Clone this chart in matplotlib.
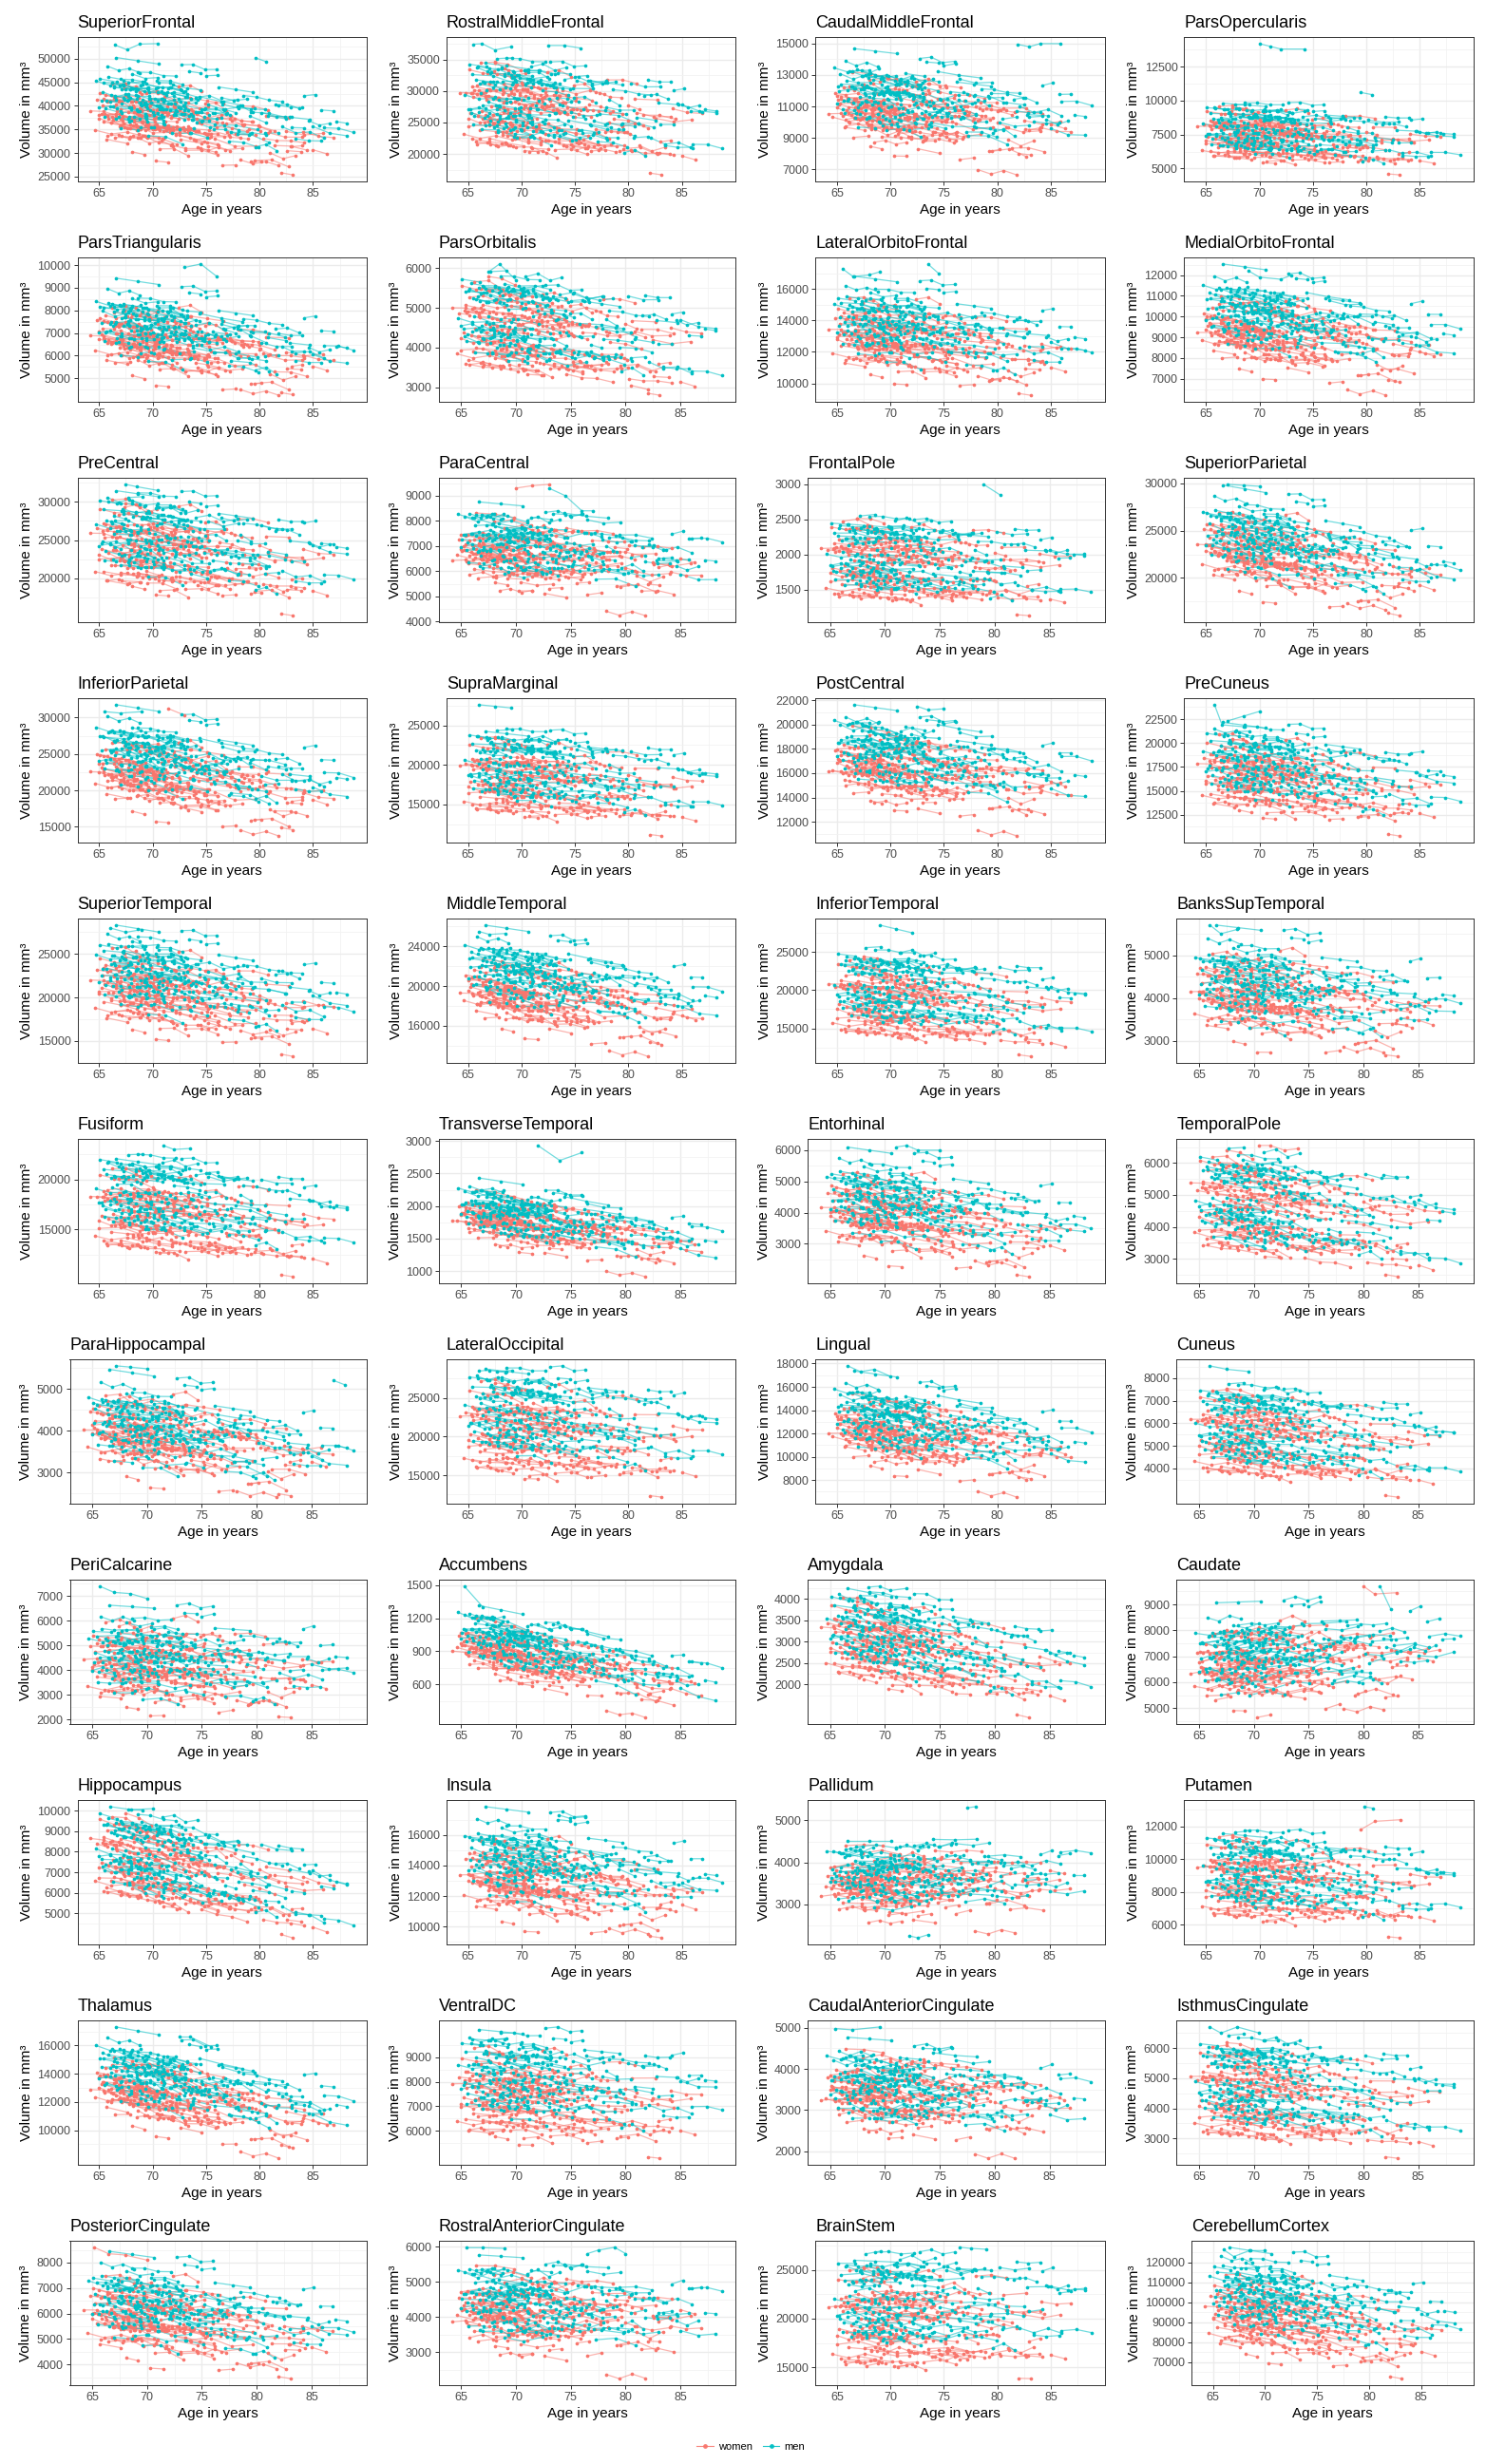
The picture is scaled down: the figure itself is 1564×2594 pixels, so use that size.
import numpy as np
import matplotlib
matplotlib.use("Agg")
import matplotlib.pyplot as plt
from matplotlib.collections import LineCollection
from matplotlib.lines import Line2D
from matplotlib.ticker import FixedLocator

plt.rcParams['font.family'] = ['Liberation Sans', 'DejaVu Sans']

# ---- regions: level at age 70 (women / men), spread, yearly change, ticks
regions = ['SuperiorFrontal', 'RostralMiddleFrontal', 'CaudalMiddleFrontal', 'ParsOpercularis',
           'ParsTriangularis', 'ParsOrbitalis', 'LateralOrbitoFrontal', 'MedialOrbitoFrontal',
           'PreCentral', 'ParaCentral', 'FrontalPole', 'SuperiorParietal',
           'InferiorParietal', 'SupraMarginal', 'PostCentral', 'PreCuneus',
           'SuperiorTemporal', 'MiddleTemporal', 'InferiorTemporal', 'BanksSupTemporal',
           'Fusiform', 'TransverseTemporal', 'Entorhinal', 'TemporalPole',
           'ParaHippocampal', 'LateralOccipital', 'Lingual', 'Cuneus',
           'PeriCalcarine', 'Accumbens', 'Amygdala', 'Caudate',
           'Hippocampus', 'Insula', 'Pallidum', 'Putamen',
           'Thalamus', 'VentralDC', 'CaudalAnteriorCingulate', 'IsthmusCingulate',
           'PosteriorCingulate', 'RostralAnteriorCingulate', 'BrainStem', 'CerebellumCortex']

mean_women = [36500, 26500, 10400, 7300, 6500, 4400, 12700, 9000,
              23500, 6500, 1850, 22300, 21500, 17800, 16000, 16200,
              20300, 18700, 18300, 3950, 16300, 1700, 3800, 4550,
              3800, 20300, 11700, 5300, 4100, 840, 2850, 6500,
              7300, 12800, 3400, 8500, 12300, 7300, 3300, 4350,
              5700, 4000, 19500, 91000]
mean_men = [40500, 28500, 11400, 7900, 7200, 4750, 13700, 10000,
            25500, 7000, 2000, 24000, 24500, 19800, 17500, 17800,
            22500, 21000, 20500, 4300, 18500, 1850, 4350, 4900,
            4050, 23000, 13000, 5900, 4500, 960, 3200, 7000,
            7900, 14200, 3650, 9300, 13700, 8200, 3500, 4900,
            6300, 4350, 22000, 103000]
spread = [3800, 3100, 1500, 900, 900, 520, 1250, 1100,
          2650, 900, 260, 2300, 3000, 2200, 1950, 1850,
          2300, 2200, 2300, 580, 1850, 260, 700, 700,
          580, 2750, 1950, 860, 900, 160, 440, 980,
          920, 1500, 520, 1150, 1500, 860, 630, 700,
          860, 750, 2300, 9800]
yearly = [-350, -230, -80, -60, -70, -40, -90, -70,
          -200, -40, -12, -200, -230, -150, -120, -150,
          -200, -160, -160, -30, -150, -25, -50, -55,
          -40, -160, -130, -55, -30, -20, -50, 15,
          -120, -90, 0, -60, -140, -45, -20, -40,
          -60, -20, -50, -800]
mix_deg = [15, -30, 40, -20, 25, -45, 10, 35, -15, 50,
           -35, 20, 30, -25, 45, -10, 5, 35, -40, 20,
           -30, 45, 15, -50, 25, -20, 40, -35, 10, 50,
           -15, 30, -45, 20, 55, -25, 35, -10, 45, -40,
           15, 50, -30, 5]
yticks = [[25000, 30000, 35000, 40000, 45000, 50000], [20000, 25000, 30000, 35000],
          [7000, 9000, 11000, 13000, 15000], [5000, 7500, 10000, 12500],
          [5000, 6000, 7000, 8000, 9000, 10000], [3000, 4000, 5000, 6000],
          [10000, 12000, 14000, 16000], [7000, 8000, 9000, 10000, 11000, 12000],
          [20000, 25000, 30000], [4000, 5000, 6000, 7000, 8000, 9000],
          [1500, 2000, 2500, 3000], [20000, 25000, 30000],
          [15000, 20000, 25000, 30000], [15000, 20000, 25000],
          [12000, 14000, 16000, 18000, 20000, 22000], [12500, 15000, 17500, 20000, 22500],
          [15000, 20000, 25000], [16000, 20000, 24000],
          [15000, 20000, 25000], [3000, 4000, 5000],
          [15000, 20000], [1000, 1500, 2000, 2500, 3000],
          [3000, 4000, 5000, 6000], [3000, 4000, 5000, 6000],
          [3000, 4000, 5000], [15000, 20000, 25000],
          [8000, 10000, 12000, 14000, 16000, 18000], [4000, 5000, 6000, 7000, 8000],
          [2000, 3000, 4000, 5000, 6000, 7000], [600, 900, 1200, 1500],
          [2000, 2500, 3000, 3500, 4000], [5000, 6000, 7000, 8000, 9000],
          [5000, 6000, 7000, 8000, 9000, 10000], [10000, 12000, 14000, 16000],
          [3000, 4000, 5000], [6000, 8000, 10000, 12000],
          [10000, 12000, 14000, 16000], [6000, 7000, 8000, 9000],
          [2000, 3000, 4000, 5000], [3000, 4000, 5000, 6000],
          [4000, 5000, 6000, 7000, 8000], [3000, 4000, 5000, 6000],
          [15000, 20000, 25000], [70000, 80000, 90000, 100000, 110000, 120000]]
xticks = [65, 70, 75, 80, 85]

# ---- cohort: baseline age, years between scans, number of scans, standing (two parts),
#      own rate of change, zig-zag between scans
women_age0 = [64.2, 64.6, 64.8, 65.0, 65.1, 65.2, 65.3, 65.4, 65.5, 65.6,
              65.7, 65.8, 65.9, 66.0, 66.1, 66.2, 66.3, 66.4, 66.5, 66.6,
              66.8, 66.9, 67.0, 67.1, 67.2, 67.3, 67.5, 67.6, 67.7, 67.9,
              68.0, 68.1, 68.3, 68.4, 68.5, 68.7, 68.8, 69.0, 69.1, 69.2,
              69.4, 69.5, 69.7, 69.8, 70.0, 70.1, 70.3, 70.5, 70.6, 70.8,
              71.0, 71.1, 71.3, 71.5, 71.7, 71.9, 72.0, 72.2, 72.4, 72.6,
              72.9, 73.1, 73.3, 73.5, 73.8, 74.0, 74.3, 74.6, 74.9, 75.2,
              75.5, 75.8, 76.1, 76.5, 76.9, 77.3, 77.8, 78.2, 78.6, 79.0,
              79.5, 80.0, 80.3, 80.6, 81.0, 81.4, 82.0, 82.5, 83.0, 84.1,
              85.0, 66.7, 68.2, 70.4, 72.8,
              65.0, 65.4, 65.8, 66.2, 66.6, 67.0, 67.4, 67.8, 68.2, 68.6,
              69.0, 69.4, 69.8, 70.2, 70.7, 71.2, 71.6, 72.1, 72.5, 73.0,
              73.6, 74.2, 74.8, 75.5, 76.3, 77.0, 78.0, 79.2, 80.8, 82.6]
women_gap = [1.2, 1.5, 1.0, 2.0, 1.3, 1.8, 1.1, 1.6, 1.4, 1.0,
             1.9, 1.2, 1.5, 1.1, 2.1, 1.3, 1.0, 1.7, 1.4, 1.2,
             1.6, 1.0, 1.3, 1.8, 1.1, 1.5, 1.2, 2.0, 1.0, 1.4,
             1.7, 1.1, 1.3, 1.6, 1.0, 1.9, 1.2, 1.5, 1.1, 1.8,
             1.0, 1.4, 1.3, 2.2, 1.1, 1.6, 1.2, 1.0, 1.7, 1.3,
             1.5, 1.1, 1.9, 1.2, 1.4, 1.0, 1.6, 1.3, 1.1, 2.0,
             1.2, 1.5, 1.0, 1.8, 1.3, 1.1, 1.7, 1.4, 1.0, 1.6,
             1.2, 1.9, 1.1, 1.3, 1.5, 1.0, 1.8, 1.2, 1.4, 1.1,
             1.6, 1.0, 1.3, 2.1, 1.2, 1.5, 1.1, 1.7, 1.0, 1.4,
             1.3, 1.8, 1.2, 1.5, 1.0,
             1.1, 1.4, 1.0, 1.7, 1.2, 1.5, 1.0, 1.3, 1.9, 1.1,
             1.4, 1.2, 1.0, 1.6, 1.3, 1.1, 1.8, 1.0, 1.4, 1.2,
             1.5, 1.0, 1.3, 1.7, 1.1, 1.2, 1.4, 1.0, 1.6, 1.3]
women_nvis = [3, 4, 2, 3, 4, 3, 2, 4, 3, 3,
              2, 4, 3, 4, 2, 3, 4, 3, 2, 4,
              3, 3, 4, 2, 3, 4, 3, 2, 4, 3,
              3, 2, 4, 3, 4, 2, 3, 4, 3, 2,
              4, 3, 3, 2, 4, 3, 2, 4, 3, 3,
              2, 4, 3, 3, 4, 2, 3, 4, 3, 2,
              4, 3, 2, 3, 4, 3, 2, 4, 3, 3,
              2, 3, 4, 2, 3, 3, 2, 4, 3, 2,
              3, 2, 4, 2, 3, 3, 2, 3, 2, 3,
              2, 3, 4, 3, 3,
              3, 2, 4, 3, 3, 2, 4, 3, 2, 4,
              3, 3, 2, 4, 3, 2, 3, 4, 3, 2,
              3, 4, 2, 3, 3, 2, 3, 2, 3, 2]
women_z1 = [0.3, -1.2, 0.8, -0.4, 1.5, -0.1, 0.6, -0.9, 0.2, 1.1,
            -1.6, 0.4, -0.3, 0.9, -0.7, 2.1, -0.2, 0.5, -1.1, 0.0,
            1.3, -0.6, 0.7, -1.4, 0.1, -0.5, 1.8, -0.8, 0.3, -0.2,
            0.6, -1.9, 1.0, -0.4, 0.2, -1.0, 0.8, 1.4, -0.3, -0.7,
            0.5, -1.3, 0.0, 1.2, -0.6, 0.9, -2.2, 0.4, -0.1, 0.7,
            -0.9, 1.6, -0.5, 0.3, -1.2, 0.1, 1.0, -0.8, 2.4, -0.3,
            0.6, -1.5, 0.2, -0.4, 1.1, -0.7, 0.5, -0.2, 1.7, -1.0,
            0.0, -0.6, 0.8, -1.8, 0.3, 1.3, -0.1, -0.9, 0.6, 0.2,
            -1.3, 0.9, -0.4, 1.5, -0.8, 0.1, -2.0, 0.7, -0.3, 1.0,
            -0.5, 0.4, -1.1, 0.2, 0.8,
            -0.4, 1.0, -1.5, 0.2, 0.7, -0.9, 1.9, -0.2, 0.4, -1.1,
            0.8, -0.6, 1.3, 0.0, -1.7, 0.5, -0.3, 1.1, -0.8, 0.3,
            1.6, -1.2, 0.1, -0.5, 0.9, -0.1, 2.0, -1.4, 0.6, -0.7]
women_z2 = [-0.7, 0.9, 0.1, 1.4, -1.1, 0.5, -0.3, 1.8, -0.6, 0.2,
            0.8, -1.5, 0.4, -0.2, 1.1, -0.9, 0.0, 2.0, -0.4, 0.7,
            -1.3, 0.3, -0.8, 1.2, -0.1, 0.6, -1.7, 0.9, 0.2, -0.5,
            1.5, 0.1, -1.0, 0.4, -2.1, 0.8, -0.3, 0.5, 1.0, -0.6,
            -0.2, 1.3, -0.9, 0.3, 0.7, -1.4, 0.0, 1.6, -0.7, 0.4,
            1.9, -0.1, 0.6, -1.2, 0.2, -0.8, 0.9, 1.1, -0.4, -1.6,
            0.3, 0.7, -0.5, 1.4, -1.0, 0.1, -0.3, 2.2, -0.6, 0.5,
            -1.1, 0.8, 0.2, -0.2, 1.2, -0.9, 0.6, -1.8, 0.4, 1.0,
            0.0, -0.7, 1.7, -0.4, 0.3, -1.3, 0.9, -0.1, 0.5, -0.8,
            1.3, -0.2, 0.6, -1.5, 0.1,
            0.6, -0.3, 1.2, -1.0, 0.0, 1.5, -0.6, 0.8, -1.4, 0.3,
            -0.8, 1.7, 0.2, -0.5, 0.9, -1.2, 0.4, -0.1, 1.1, -1.8,
            0.5, 0.7, -0.9, 1.3, -0.2, 0.8, -1.1, 0.1, -0.6, 1.0]
women_rate = [1.0, 0.6, 1.4, 0.8, 1.2, 0.4, 1.7, 0.9, 1.1, 0.5,
              1.3, 0.7, 1.9, 1.0, 0.3, 1.5, 0.8, 1.2, 0.6, 1.0,
              1.6, 0.9, 0.5, 1.3, 1.1, 0.7, 2.0, 0.8, 1.0, 1.4,
              0.6, 1.2, 0.9, 1.7, 0.4, 1.1, 1.3, 0.8, 1.5, 1.0,
              0.7, 1.2, 0.5, 1.6, 0.9, 1.1, 1.4, 0.8, 0.3, 1.2,
              1.0, 1.8, 0.6, 1.3, 0.9, 1.1, 0.7, 1.5, 1.0, 0.5,
              1.2, 0.8, 1.6, 1.0, 0.4, 1.3, 0.9, 1.1, 1.7, 0.6,
              1.0, 1.4, 0.8, 1.2, 0.5, 1.9, 1.0, 0.7, 1.3, 1.1,
              0.9, 1.5, 0.6, 1.2, 1.0, 0.8, 1.4, 0.5, 1.1, 1.3,
              0.7, 1.0, 1.6, 0.9, 1.2,
              0.9, 1.3, 0.6, 1.1, 1.6, 0.8, 1.0, 1.4, 0.5, 1.2,
              0.9, 1.7, 0.7, 1.0, 1.3, 0.6, 1.1, 1.5, 0.8, 1.2,
              1.0, 0.4, 1.4, 0.9, 1.8, 1.1, 0.7, 1.3, 1.0, 0.8]
women_bend = [0.4, -0.7, 0.1, 0.9, -0.3, -1.0, 0.6, -0.2, 0.8, -0.5,
              0.0, 0.7, -0.9, 0.3, -0.4, 1.0, -0.6, 0.2, 0.5, -0.8,
              0.9, -0.1, -0.5, 0.6, 0.1, -0.9, 0.4, 0.8, -0.3, -0.6,
              0.7, -0.2, 0.3, -1.0, 0.5, 0.0, -0.7, 0.9, -0.4, 0.2,
              -0.8, 0.6, 0.1, -0.3, 1.0, -0.5, 0.4, -0.9, 0.7, -0.1,
              0.3, -0.6, 0.8, 0.0, -0.4, 0.5, -1.0, 0.2, 0.9, -0.7,
              -0.2, 0.6, -0.5, 0.4, -0.8, 0.1, 0.7, -0.3, 1.0, -0.6,
              0.5, -0.9, 0.2, 0.8, -0.1, -0.4, 0.6, -0.7, 0.3, 0.0,
              0.9, -0.5, -0.2, 0.7, -1.0, 0.4, 0.1, -0.6, 0.8, -0.3,
              -0.7, 0.2, 0.5, -0.4, 0.9, -0.8, 0.0, 0.6, -0.1, 0.3,
              -0.5, 1.0, -0.3, 0.4, -0.9, 0.7, -0.2, 0.1, -0.6, 0.8,
              0.2, -0.4, 0.9, -0.7, 0.5, 0.0, -0.8, 0.6, -0.1, 0.3,
              -1.0, 0.4, 0.7, -0.5, 0.2]

men_age0 = [64.7, 65.0, 65.1, 65.3, 65.4, 65.5, 65.7, 65.8, 66.0, 66.1,
            66.3, 66.4, 66.6, 66.7, 66.9, 67.0, 67.2, 67.4, 67.5, 67.7,
            67.9, 68.0, 68.2, 68.4, 68.6, 68.8, 69.0, 69.2, 69.4, 69.6,
            69.8, 70.0, 70.2, 70.4, 70.7, 70.9, 71.1, 71.4, 71.6, 71.9,
            72.1, 72.4, 72.7, 73.0, 73.3, 73.6, 74.0, 74.4, 74.8, 75.2,
            75.7, 76.2, 76.8, 77.3, 77.9, 78.5, 79.1, 79.6, 80.2, 80.8,
            81.5, 82.1, 82.8, 83.4, 84.2, 85.0, 86.0, 87.2, 65.6, 66.5,
            67.3, 68.3, 69.1, 69.9, 70.6, 71.3, 72.0, 73.8, 75.0, 76.5,
            78.0, 66.2, 68.9, 70.3, 74.6,
            65.2, 65.9, 66.4, 66.8, 67.1, 67.6, 68.1, 68.5, 69.3, 69.7,
            70.1, 70.5, 71.0, 71.5, 72.2, 72.9, 73.4, 74.1, 74.9, 75.6,
            76.4, 77.1, 78.2, 79.4, 80.5, 81.8, 83.0, 84.6, 85.8, 67.8]
men_gap = [1.3, 1.0, 1.6, 1.2, 1.9, 1.1, 1.4, 1.0, 1.7, 1.2,
           1.5, 1.1, 2.0, 1.3, 1.0, 1.6, 1.2, 1.8, 1.1, 1.4,
           1.0, 1.5, 1.3, 2.1, 1.2, 1.0, 1.7, 1.4, 1.1, 1.6,
           1.3, 1.0, 1.9, 1.2, 1.5, 1.1, 1.4, 1.8, 1.0, 1.3,
           1.6, 1.2, 1.1, 1.7, 1.0, 1.5, 1.3, 2.0, 1.2, 1.4,
           1.1, 1.6, 1.0, 1.8, 1.3, 1.2, 1.5, 1.0, 1.4, 1.7,
           1.1, 1.3, 1.9, 1.2, 1.0, 1.6, 1.4, 1.0, 1.5, 1.2,
           1.8, 1.1, 1.3, 1.6, 1.0, 1.4, 1.2, 2.0, 1.1, 1.5,
           1.3, 1.7, 1.0, 1.4, 1.2,
           1.4, 1.1, 1.6, 1.0, 1.3, 1.8, 1.2, 1.0, 1.5, 1.1,
           1.7, 1.3, 1.0, 1.4, 1.2, 1.9, 1.1, 1.3, 1.0, 1.6,
           1.2, 1.4, 1.0, 1.5, 1.3, 1.1, 1.2, 1.0, 1.1, 1.6]
men_nvis = [4, 3, 2, 3, 4, 3, 2, 4, 3, 3,
            4, 2, 3, 4, 3, 2, 4, 3, 3, 2,
            4, 3, 2, 3, 4, 3, 3, 2, 4, 3,
            2, 4, 3, 3, 2, 4, 3, 2, 4, 3,
            3, 2, 4, 3, 3, 2, 4, 3, 2, 3,
            4, 3, 2, 3, 3, 4, 2, 3, 3, 2,
            3, 4, 2, 3, 2, 3, 3, 2, 4, 3,
            3, 2, 4, 3, 3, 2, 3, 4, 2, 3,
            3, 4, 2, 3, 3,
            3, 4, 2, 3, 4, 2, 3, 3, 4, 2,
            3, 3, 4, 2, 3, 3, 2, 4, 3, 2,
            3, 3, 2, 3, 2, 3, 2, 3, 2, 3]
men_z1 = [0.5, -0.8, 1.2, -0.2, 0.9, -1.4, 0.1, 1.7, -0.5, 0.3,
          -1.0, 0.7, 2.2, -0.3, 0.4, -1.7, 1.0, -0.6, 0.2, 1.4,
          -0.1, -1.2, 0.8, 0.0, 1.9, -0.7, 0.3, -0.4, 1.1, -2.0,
          0.6, -0.9, 0.2, 1.5, -0.3, 0.9, -1.3, 0.4, -0.1, 1.2,
          -0.6, 0.7, 2.5, -0.8, 0.1, -1.5, 1.0, 0.3, -0.4, 0.8,
          -1.1, 1.6, 0.0, -0.7, 0.5, 1.3, -0.2, -1.8, 0.9, 0.2,
          1.1, -0.5, 0.6, -1.0, 1.8, 0.4, -0.3, 0.7, -0.9, 0.3,
          1.0, -1.2, 0.5, -0.1, 1.4, -0.6, 0.8, -0.4, 2.0, 0.1,
          -0.8, 0.6, -1.6, 1.2, 0.0,
          -0.5, 1.3, 0.2, -1.1, 0.8, -0.2, 1.6, -0.8, 0.4, 0.0,
          -1.4, 0.9, -0.3, 1.1, -0.6, 0.5, 2.1, -1.0, 0.3, -0.4,
          1.2, -1.6, 0.7, 0.1, -0.9, 1.4, -0.2, 0.6, 1.0, -1.3]
men_z2 = [1.1, 0.3, -0.9, 1.6, -0.4, 0.7, -1.3, 0.2, 0.9, -0.6,
          1.8, -0.2, 0.5, -1.1, 1.3, 0.0, -0.7, 2.1, 0.4, -1.5,
          0.8, 0.1, -0.3, 1.2, -0.8, 0.6, -1.9, 1.0, -0.1, 0.4,
          -1.2, 1.5, 0.3, -0.5, 0.9, -2.0, 0.7, 1.4, -0.4, 0.2,
          1.0, -0.8, 0.0, 1.7, -0.6, 0.5, -1.0, 1.9, 0.3, -1.4,
          0.6, -0.2, 1.1, -0.9, 0.4, -0.1, 1.3, 0.8, -1.7, 0.5,
          -0.3, 1.2, -0.6, 0.9, 0.0, -1.1, 1.6, -0.4, 0.7, -0.8,
          0.2, 1.0, -1.3, 0.6, -0.5, 1.4, 0.1, -0.7, 0.3, 1.8,
          -0.2, 0.9, 0.4, -1.0, 0.5,
          0.8, -0.6, 1.4, 0.2, -1.0, 0.5, -0.3, 1.2, -1.6, 0.9,
          0.1, -0.7, 1.8, -0.2, 0.6, -1.2, 0.3, 1.0, -0.5, 1.5,
          -0.9, 0.4, -0.1, 1.1, 0.7, -1.4, 0.2, -0.8, 0.5, 1.3]
men_rate = [1.1, 0.7, 1.5, 0.9, 1.3, 0.5, 1.8, 1.0, 0.6, 1.2,
            1.4, 0.8, 1.0, 1.7, 0.4, 1.2, 0.9, 1.5, 0.7, 1.1,
            1.9, 0.6, 1.3, 1.0, 0.8, 1.6, 0.5, 1.2, 1.0, 1.4,
            0.7, 1.1, 2.0, 0.9, 1.3, 0.6, 1.0, 1.5, 0.8, 1.2,
            1.7, 0.4, 1.1, 0.9, 1.4, 1.0, 0.6, 1.3, 1.8, 0.8,
            1.2, 1.0, 0.5, 1.6, 0.9, 1.1, 1.4, 0.7, 1.0, 1.3,
            0.8, 1.5, 1.1, 0.6, 1.2, 1.9, 0.9, 1.0, 0.7, 1.4,
            1.1, 0.5, 1.3, 1.0, 1.6, 0.8, 1.2, 0.9, 1.5, 1.0,
            0.7, 1.3, 1.1, 0.6, 1.2,
            1.2, 0.8, 1.4, 1.0, 0.6, 1.5, 1.1, 0.9, 1.7, 0.7,
            1.2, 1.0, 0.5, 1.3, 1.6, 0.9, 1.1, 0.8, 1.4, 1.0,
            0.6, 1.2, 1.8, 0.9, 1.1, 0.7, 1.3, 1.0, 1.5, 0.8]
men_bend = [-0.5, 0.8, 0.2, -0.9, 0.6, -0.1, 0.4, -0.7, 1.0, -0.3,
            0.7, -0.4, 0.0, 0.9, -0.8, 0.3, -0.6, 0.5, -0.2, 0.8,
            -1.0, 0.1, 0.6, -0.5, 0.3, 0.9, -0.7, 0.2, -0.4, 0.7,
            0.0, -0.9, 0.5, 0.4, -0.3, 1.0, -0.6, 0.1, 0.8, -0.2,
            -0.7, 0.3, 0.6, -1.0, 0.2, -0.5, 0.9, -0.1, 0.4, -0.8,
            0.5, 0.0, -0.6, 0.7, -0.3, 0.2, -0.9, 1.0, -0.4, 0.1,
            0.6, -0.8, 0.3, -0.2, 0.9, -0.5, 0.4, 0.0, -0.7, 0.8,
            -0.1, 0.5, -1.0, 0.3, 0.7, -0.6, 0.2, -0.3, 0.9, -0.4,
            0.1, -0.8, 0.6, 0.4, -0.5, 1.0, -0.2, 0.7, -0.9, 0.0,
            0.3, -0.6, 0.8, -0.1, 0.5, -0.7, 0.2, 0.9, -0.3, 0.6,
            -0.4, 0.1, -0.8, 0.7, 0.0, -0.5, 0.4, -0.9, 0.3, 0.8,
            -0.2, 0.6, -0.7, 0.5, -0.1]

# zig-zag shape over the scans of one person (share of the bend)
bend_shape = [0.0, 1.0, -0.4, 0.6]

# ---- stand-out trajectories
extra_region = ['SuperiorFrontal', 'SuperiorFrontal', 'RostralMiddleFrontal', 'RostralMiddleFrontal',
                'CaudalMiddleFrontal', 'ParsOpercularis', 'ParsOpercularis', 'ParsTriangularis',
                'ParsOrbitalis', 'ParsOrbitalis', 'LateralOrbitoFrontal', 'LateralOrbitoFrontal',
                'MedialOrbitoFrontal', 'PreCentral', 'ParaCentral', 'ParaCentral',
                'FrontalPole', 'SuperiorParietal', 'InferiorParietal', 'InferiorParietal',
                'SupraMarginal', 'PostCentral', 'PreCuneus', 'PreCuneus',
                'SuperiorTemporal', 'MiddleTemporal', 'InferiorTemporal', 'BanksSupTemporal',
                'Fusiform', 'TransverseTemporal', 'Entorhinal', 'TemporalPole',
                'ParaHippocampal', 'ParaHippocampal', 'LateralOccipital', 'Lingual',
                'Cuneus', 'PeriCalcarine', 'Accumbens', 'Amygdala',
                'Caudate', 'Caudate', 'Hippocampus', 'Insula',
                'Pallidum', 'Pallidum', 'Putamen', 'Putamen',
                'Thalamus', 'VentralDC', 'CaudalAnteriorCingulate', 'IsthmusCingulate',
                'PosteriorCingulate', 'RostralAnteriorCingulate', 'RostralAnteriorCingulate', 'BrainStem',
                'CerebellumCortex']
extra_sex = ['men', 'men', 'men', 'men',
             'men', 'men', 'men', 'men',
             'men', 'women', 'men', 'men',
             'men', 'men', 'women', 'men',
             'men', 'men', 'women', 'men',
             'men', 'men', 'men', 'men',
             'men', 'men', 'men', 'men',
             'men', 'men', 'men', 'women',
             'men', 'men', 'men', 'men',
             'men', 'men', 'men', 'men',
             'women', 'men', 'men', 'men',
             'men', 'men', 'men', 'women',
             'men', 'men', 'men', 'men',
             'women', 'men', 'men', 'men',
             'men']
extra_ages = [[66.5, 67.6, 68.8, 70.5], [79.6, 80.6], [65.5, 66.3, 67.5, 69.0], [72.5, 74.0, 75.5],
              [81.9, 83.0, 84.0, 85.9], [70.0, 71.0, 72.0, 74.2], [79.5, 80.5], [73.0, 74.5, 76.0],
              [67.5, 68.5, 70.0], [80.5, 82.0], [65.5, 66.5, 68.0, 69.0], [73.5, 74.5],
              [69.0, 70.0, 72.0, 73.0], [67.5, 68.5, 70.5], [70.0, 71.5, 73.0], [73.0, 74.5, 76.0, 77.0],
              [79.0, 80.5], [67.0, 68.5, 70.0], [71.5, 73.0], [65.5, 67.0, 69.0],
              [66.0, 67.5, 69.0], [72.5, 73.5, 75.0], [65.8, 66.5, 68.5], [67.0, 68.5, 70.0],
              [66.0, 67.5, 69.0], [66.0, 67.0, 68.5], [69.0, 70.5, 72.0], [66.0, 67.0, 68.5],
              [71.0, 72.0, 73.5], [72.0, 74.0, 76.0], [71.0, 72.0, 73.0, 75.0], [70.5, 71.5, 72.8, 74.0],
              [67.2, 68.5, 70.0], [87.0, 88.0], [66.0, 67.0, 68.5], [66.0, 67.2, 68.5, 70.0],
              [66.0, 67.5, 69.5], [65.7, 67.0, 68.5, 70.0], [65.3, 67.0], [68.5, 69.5, 70.5, 72.0],
              [80.0, 81.0, 83.0], [81.5, 82.5], [66.0, 68.0, 70.0], [73.5, 74.5, 76.0],
              [77.5, 78.3], [72.2, 73.0, 74.0], [79.8, 80.6], [79.5, 80.8, 83.2],
              [72.5, 73.5, 75.5], [66.0, 67.5, 69.0], [65.5, 67.0, 69.5], [66.0, 67.0, 68.5, 70.5],
              [65.2, 66.5, 68.0, 70.0], [65.5, 67.0, 69.0], [76.5, 77.5, 79.0, 80.0], [76.5, 77.5, 79.0],
              [66.0, 67.0, 68.5, 70.0]]
extra_vols = [[52900, 51900, 53100, 53200], [50200, 49400], [37400, 37500, 36500, 37000], [37200, 37200, 36800],
              [14950, 14800, 15000, 15000], [14200, 14000, 13800, 13800], [10600, 10450], [9900, 10050, 9500],
              [5900, 6100, 5700], [3050, 2950], [17300, 16800, 16900, 17100], [17600, 17000],
              [12200, 11900, 11800, 12000], [32300, 32000, 31500], [9300, 9400, 9450], [9300, 9000, 8400, 8400],
              [3000, 2850], [29900, 29800, 29700], [31200, 30300], [30800, 30600, 30800],
              [27600, 27400, 27200], [21500, 21200, 21300], [24000, 21900, 21700], [22300, 22800, 23300],
              [28000, 27500, 27800], [25500, 25200, 25300], [28500, 28000, 27500], [5700, 5500, 5600],
              [23400, 23000, 23100], [2930, 2700, 2820], [6100, 6150, 6000, 6000], [6550, 6550, 6400, 6450],
              [5550, 5520, 5480], [5200, 5100], [28500, 28600, 28300], [17800, 17300, 17500, 16900],
              [8550, 8400, 8300], [7400, 7150, 7100, 6900], [1490, 1300], [4280, 4300, 4200, 4250],
              [9700, 9400, 9450], [9700, 8800], [10200, 10050, 10100], [17300, 17100, 17200],
              [5300, 5330], [2250, 2200, 2280], [13200, 13100], [11800, 12300, 12400],
              [16600, 16600, 15900], [9750, 9700, 9750], [4980, 4950, 5020], [6700, 6500, 6700, 6500],
              [8600, 8350, 8300, 8100], [5970, 5970, 5950], [5800, 5900, 5980, 5800], [27300, 27200, 27100],
              [126500, 123000, 126000, 126000]]

for lst in (women_gap, women_nvis, women_z1, women_z2, women_rate, women_bend):
    assert len(lst) == len(women_age0)
for lst in (men_gap, men_nvis, men_z1, men_z2, men_rate, men_bend):
    assert len(lst) == len(men_age0)
assert len(extra_region) == len(extra_sex) == len(extra_ages) == len(extra_vols)

WOMEN_COL = '#F8766D'
MEN_COL = '#00BFC4'
W, H = 1564, 2594


def trajectories(age0, gap, nvis, z1, z2, rate, bend, level, sd, slope, deg):
    t = np.radians(deg)
    z = np.cos(t) * np.array(z1) + np.sin(t) * np.array(z2)
    paths = []
    for j in range(len(age0)):
        k = np.arange(nvis[j])
        ages = age0[j] + gap[j] * k
        start = level + sd * z[j] + slope * (age0[j] - 70)
        vals = start + slope * rate[j] * (ages - age0[j])
        vals = vals + 0.2 * sd * bend[j] * np.array(bend_shape[:nvis[j]])
        paths.append(np.column_stack([ages, vals]))
    return paths


fig = plt.figure(figsize=(W / 100, H / 100), dpi=100)
fig.patch.set_facecolor('white')

for i, name in enumerate(regions):
    r, c = divmod(i, 4)
    ndig = len(str(max(yticks[i])))
    x0 = c * 388.3 + 41.5 + 8 * ndig
    x1 = c * 388.3 + 386
    y0 = 39 + 232 * r
    y1 = 191 + 232 * r
    ax = fig.add_axes([x0 / W, 1 - y1 / H, (x1 - x0) / W, (y1 - y0) / H])

    women = trajectories(women_age0, women_gap, women_nvis, women_z1, women_z2, women_rate,
                         women_bend, mean_women[i], spread[i], yearly[i], mix_deg[i])
    men = trajectories(men_age0, men_gap, men_nvis, men_z1, men_z2, men_rate,
                       men_bend, mean_men[i], spread[i], yearly[i], mix_deg[i])
    for reg, sex, ages, vols in zip(extra_region, extra_sex, extra_ages, extra_vols):
        if reg == name:
            (women if sex == 'women' else men).append(np.column_stack([ages, vols]))

    groups = [(women, WOMEN_COL), (men, MEN_COL)]
    for paths, col in groups:
        ax.add_collection(LineCollection(paths, colors=col, linewidths=0.9, alpha=0.55, zorder=2))
    for paths, col in groups:
        pts = np.vstack(paths)
        ax.scatter(pts[:, 0], pts[:, 1], s=7, color=col, linewidths=0, zorder=3)

    ax.margins(0.05)
    ax.autoscale_view()

    ticks = yticks[i]
    step = ticks[1] - ticks[0]
    ax.yaxis.set_major_locator(FixedLocator(ticks))
    ax.yaxis.set_minor_locator(FixedLocator([t - step / 2 for t in ticks] + [ticks[-1] + step / 2]))
    ax.xaxis.set_major_locator(FixedLocator(xticks))
    ax.xaxis.set_minor_locator(FixedLocator([x - 2.5 for x in xticks] + [xticks[-1] + 2.5]))
    ax.set_axisbelow(True)
    ax.grid(which='major', color='#EBEBEB', lw=1.0)
    ax.grid(which='minor', color='#F2F2F2', lw=0.6)
    for s in ax.spines.values():
        s.set_color('#333333')
        s.set_linewidth(0.7)
    ax.tick_params(which='major', direction='out', length=3, width=0.7, color='#333333',
                   labelsize=9, labelcolor='#4D4D4D', pad=2)
    ax.tick_params(which='minor', length=0)
    ax.set_xlabel('Age in years', fontsize=11, labelpad=3)
    ax.set_ylabel('Volume in mm³', fontsize=11, labelpad=3)
    ax.set_title(name, loc='left', fontsize=13, pad=7)

handles = [Line2D([], [], color=WOMEN_COL, lw=0.8, marker='o', markersize=2.5, alpha=0.9),
           Line2D([], [], color=MEN_COL, lw=0.8, marker='o', markersize=2.5, alpha=0.9)]
fig.legend(handles, ['women', 'men'], loc='center', bbox_to_anchor=(790 / W, 18 / H),
           ncol=2, frameon=False, fontsize=8, handlelength=1.6, columnspacing=1.0,
           handletextpad=0.4)

fig.savefig('out.png', dpi=100, facecolor='white')
